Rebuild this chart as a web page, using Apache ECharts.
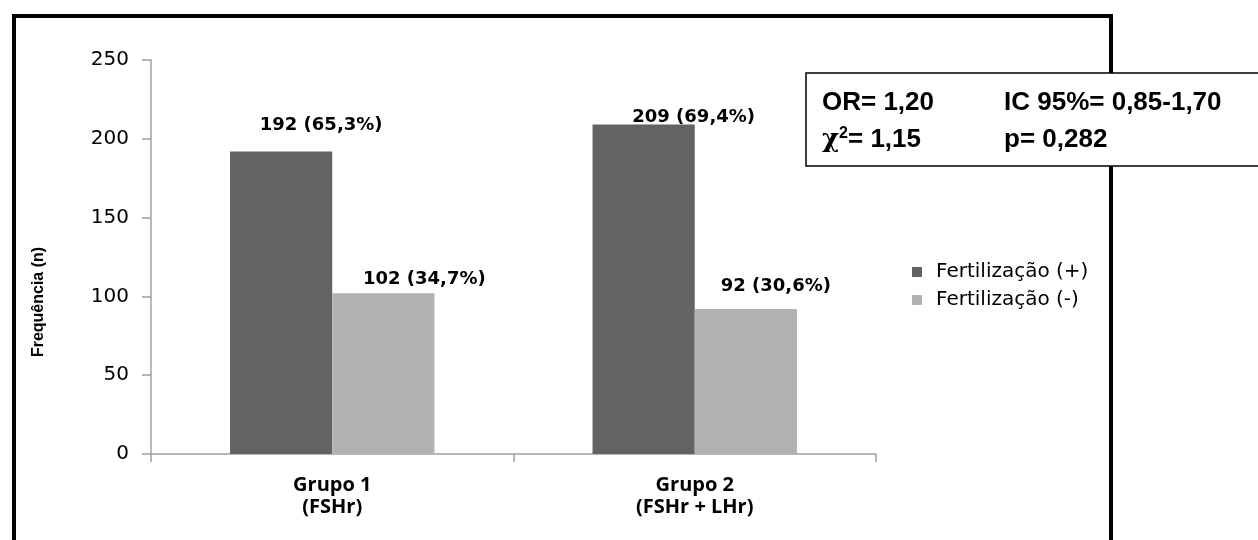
<!DOCTYPE html>
<html>
<head>
<meta charset="utf-8">
<script src="https://cdn.jsdelivr.net/npm/echarts@6/dist/echarts.min.js"></script>
<style>
html, body { margin: 0; padding: 0; background: #fff; }
#chart { width: 1258px; height: 540px; }
</style>
</head>
<body>
<div id="chart"></div>
<script>
const categories = ['Grupo 1\n(FSHr)', 'Grupo 2\n(FSHr + LHr)']
const seriesNames = ['Fertilização (+)', 'Fertilização (-)']
const positiveCounts = [192, 209]
const positivePct = [65.3, 69.4]
const negativeCounts = [102, 92]
const negativePct = [34.7, 30.6]
const yTicks = { min: 0, max: 250, interval: 50 }
const statsRow1 = ['OR= 1,20', 'IC 95%= 0,85-1,70']
const statsRow2 = ['1,15', 'p= 0,282']

// label shifts as in the original (labels sit right of the bar centres)
const posLabelShift = [[40, -12], [50, 7]]
const negLabelShift = [[41, 0], [30, -9]]

const fmtPct = v => v.toFixed(1).replace('.', ',')

const labelStyle = {
  show: true,
  position: 'top',
  color: '#000',
  fontFamily: 'DejaVu Sans',
  fontWeight: 'bold',
  fontSize: 18
}

const makeData = (counts, pcts, shifts) => counts.map((v, i) => ({
  value: v,
  label: { ...labelStyle, offset: shifts[i], formatter: () => `${v} (${fmtPct(pcts[i])}%)` }
}))

const statFont = 'bold 26px "Liberation Sans"'

const chart = echarts.init(document.getElementById('chart'))

chart.setOption({
  backgroundColor: '#fff',
  animation: false,
  grid: { left: 151, top: 60, width: 725, height: 394 },
  legend: {
    orient: 'vertical',
    left: 912,
    top: 262,
    padding: 0,
    itemWidth: 10,
    itemHeight: 10,
    itemGap: 8,
    icon: 'rect',
    textStyle: { fontFamily: 'DejaVu Sans', fontSize: 20, lineHeight: 20, color: '#000', padding: [0, 0, 0, 9] },
    data: seriesNames
  },
  xAxis: {
    type: 'category',
    data: categories,
    axisLine: { lineStyle: { color: '#a0a0a0', width: 1.5 } },
    axisTick: { show: true, length: 8, lineStyle: { color: '#a0a0a0', width: 1.5 } },
    axisLabel: {
      margin: 20,
      color: '#000',
      fontFamily: 'Open Sans',
      fontWeight: 'bold',
      fontSize: 20,
      lineHeight: 22
    }
  },
  yAxis: {
    type: 'value',
    min: yTicks.min,
    max: yTicks.max,
    interval: yTicks.interval,
    name: 'Frequência (n)',
    nameLocation: 'middle',
    nameRotate: 90,
    nameGap: 104,
    nameTextStyle: {
      fontFamily: 'Liberation Sans Narrow, Liberation Sans',
      fontWeight: 'bold',
      fontSize: 16,
      color: '#000',
      padding: [0, 90, 0, 0]
    },
    axisLine: { show: true, lineStyle: { color: '#a0a0a0', width: 1.5 } },
    axisTick: { show: true, length: 9, lineStyle: { color: '#a0a0a0', width: 1.5 } },
    splitLine: { show: false },
    axisLabel: {
      margin: 22,
      color: '#000',
      fontFamily: 'DejaVu Sans',
      fontSize: 20
    }
  },
  series: [
    {
      name: seriesNames[0],
      type: 'bar',
      barGap: 0,
      barCategoryGap: '43.6%',
      itemStyle: { color: '#636363' },
      data: makeData(positiveCounts, positivePct, posLabelShift)
    },
    {
      name: seriesNames[1],
      type: 'bar',
      barGap: 0,
      barCategoryGap: '43.6%',
      itemStyle: { color: '#b2b2b2' },
      data: makeData(negativeCounts, negativePct, negLabelShift)
    }
  ],
  graphic: [
    {
      type: 'rect',
      z: 10,
      shape: { x: 14, y: 16, width: 1097, height: 700 },
      style: { fill: 'none', stroke: '#000', lineWidth: 4 }
    },
    {
      type: 'rect',
      z: 20,
      shape: { x: 806, y: 73, width: 500, height: 93 },
      style: { fill: '#fff', stroke: '#000', lineWidth: 1.5 }
    },
    {
      type: 'text',
      z: 21,
      x: 822, y: 103,
      style: { text: statsRow1[0], font: statFont, fill: '#000', verticalAlign: 'middle' }
    },
    {
      type: 'text',
      z: 21,
      x: 1004, y: 103,
      style: { text: statsRow1[1], font: statFont, fill: '#000', verticalAlign: 'middle' }
    },
    {
      type: 'text',
      z: 21,
      x: 822, y: 140,
      style: {
        text: '{chi|χ}{sup|2}{n|= ' + statsRow2[0] + '}',
        verticalAlign: 'middle',
        rich: {
          chi: { font: 'bold 26px "DejaVu Serif"', fill: '#000' },
          sup: { font: 'bold 16px "Liberation Sans"', fill: '#000', padding: [0, 0, 12, 0] },
          n: { font: statFont, fill: '#000' }
        }
      }
    },
    {
      type: 'text',
      z: 21,
      x: 1004, y: 140,
      style: { text: statsRow2[1], font: statFont, fill: '#000', verticalAlign: 'middle' }
    }
  ]
})
</script>
</body>
</html>
